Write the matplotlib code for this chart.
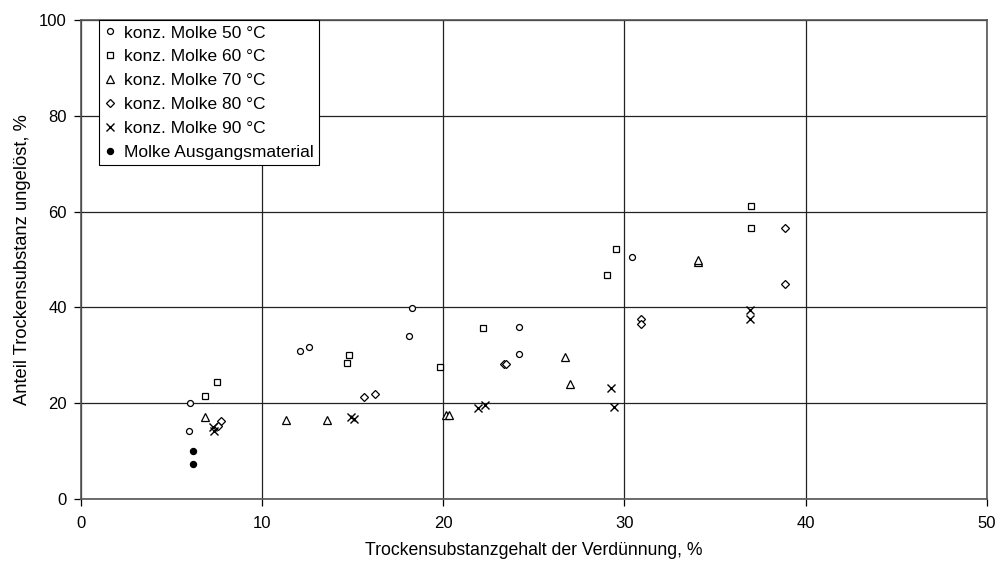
import numpy as np
from matplotlib import pyplot as plt

plt.rcParams['font.family'] = ['Liberation Sans', 'DejaVu Sans']
plt.rcParams['font.size'] = 12

# data
x50 = [6.05, 6.0, 12.1, 12.6, 18.3, 18.1, 24.2, 24.2, 30.4]
y50 = [20.0, 14.3, 31.0, 31.8, 39.9, 34.0, 36.0, 30.2, 50.6]

x60 = [6.85, 7.5, 14.8, 14.7, 19.8, 22.2, 29.05, 29.55, 37.0, 37.0]
y60 = [21.6, 24.5, 30.0, 28.5, 27.6, 35.8, 46.8, 52.2, 61.1, 56.6]

x70 = [6.85, 11.35, 13.6, 20.15, 20.3, 26.7, 27.0, 34.05, 34.05]
y70 = [17.2, 16.5, 16.5, 17.6, 17.6, 29.6, 24.0, 49.5, 50.0]

x80 = [7.75, 7.55, 15.65, 16.25, 23.35, 23.45, 30.9, 30.9, 38.85, 38.85]
y80 = [16.2, 15.2, 21.4, 22.0, 28.2, 28.3, 37.6, 36.6, 56.6, 44.9]

x90 = [7.3, 7.35, 14.9, 15.1, 21.9, 22.3, 29.25, 29.4, 36.95, 36.95]
y90 = [15.1, 14.2, 17.1, 16.8, 19.1, 19.6, 23.2, 19.3, 39.5, 37.5]

x_aus = [6.2, 6.2]
y_aus = [10.1, 7.4]

labels = ['konz. Molke 50 °C', 'konz. Molke 60 °C', 'konz. Molke 70 °C',
          'konz. Molke 80 °C', 'konz. Molke 90 °C', 'Molke Ausgangsmaterial']

fig = plt.figure(figsize=(9.96, 5.61), dpi=100)
ax = fig.add_axes([0.081, 0.1105, 0.91, 0.8535])

kw = dict(linestyle='none', mec='black', mfc='white', mew=0.9)
ax.plot(x50, y50, marker='o', markersize=4.3, label=labels[0], **kw)
ax.plot(x60, y60, marker='s', markersize=4.3, label=labels[1], **kw)
ax.plot(x70, y70, marker='^', markersize=5.3, label=labels[2], **kw)
ax.plot(x80, y80, marker='D', markersize=4, label=labels[3], **kw)
ax.plot(x90, y90, marker='x', markersize=5.5, linestyle='none', color='black',
        mew=1.0, label=labels[4])
ax.plot(x_aus, y_aus, marker='o', markersize=4.3, linestyle='none',
        color='black', label=labels[5])

ax.set_xlim(0, 50)
ax.set_ylim(0, 100)
ax.set_xticks(np.arange(0, 51, 10))
ax.set_yticks(np.arange(0, 101, 20))
ax.grid(True, color='#222222', linewidth=0.9)
ax.set_axisbelow(True)
for s in ax.spines.values():
    s.set_color('#555555')
    s.set_linewidth(1.2)
ax.tick_params(direction='out', length=5, width=0.9, labelsize=12)
ax.tick_params(axis='x', pad=7)
ax.tick_params(axis='y', pad=5)

ax.set_xlabel('Trockensubstanzgehalt der Verdünnung, %', fontsize=12.7, labelpad=8)
ax.set_ylabel('Anteil Trockensubstanz ungelöst, %', fontsize=13.2, labelpad=6)

leg = ax.legend(loc='upper left', bbox_to_anchor=(0.0205, 1.0), frameon=True,
                fancybox=False, edgecolor='black', framealpha=1,
                borderpad=0.3, labelspacing=0.5, handlelength=0.6,
                handletextpad=0.5, borderaxespad=0, fontsize=12.5)
leg.get_frame().set_linewidth(0.8)

fig.savefig('out.png', dpi=100)
